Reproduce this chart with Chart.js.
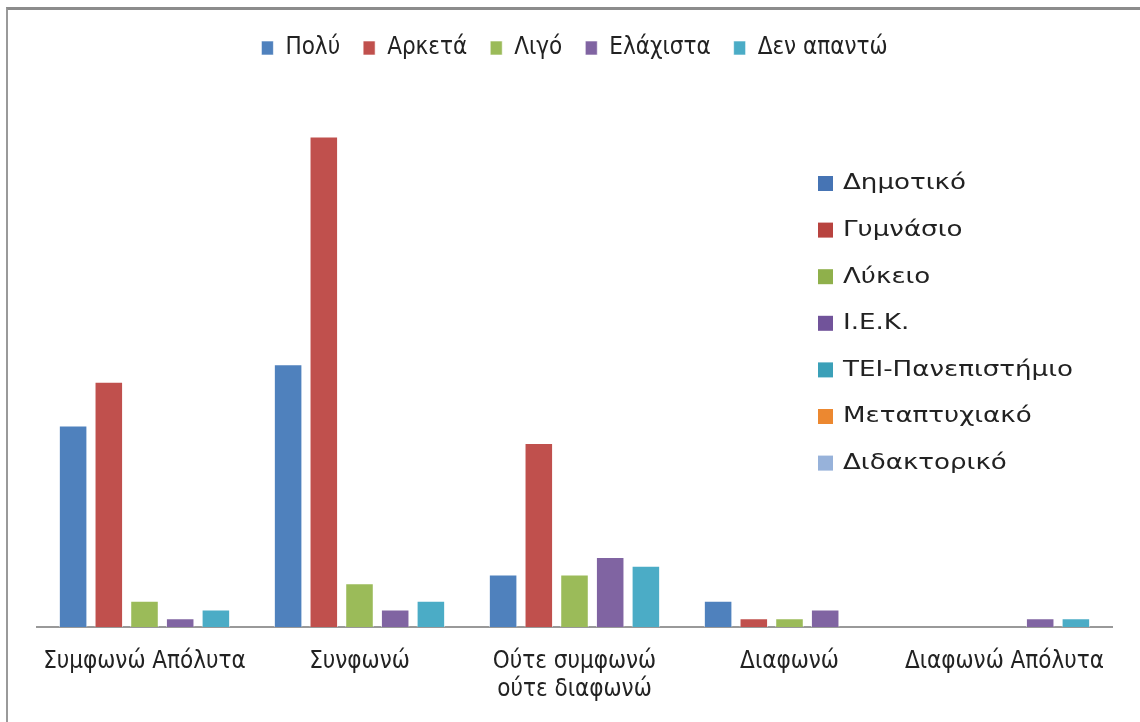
<!DOCTYPE html>
<html>
<head>
<meta charset="utf-8">
<script src="https://cdn.jsdelivr.net/npm/chart.js@4/dist/chart.umd.min.js"></script>
<style>
  html, body { margin: 0; padding: 0; background: #fff; }
  #wrap { position: relative; width: 1140px; height: 722px; }
  #frame { position: absolute; left: 6px; top: 7px; right: 0; bottom: 0;
           border-top: 3px solid #8c8c8c; border-left: 2px solid #9a9a9a; pointer-events: none; }
</style>
</head>
<body>
<div id="wrap">
  <canvas id="chart" width="1140" height="722"></canvas>
  <div id="frame"></div>
</div>
<script>
// κατηγορίες (άξονας x)
const categories = ['Συμφωνώ Απόλυτα', 'Συνφωνώ', ['Ούτε συμφωνώ', 'ούτε διαφωνώ'], 'Διαφωνώ', 'Διαφωνώ Απόλυτα'];

// σειρές
const seriesNames = ['Πολύ', 'Αρκετά', 'Λιγό', 'Ελάχιστα', 'Δεν απαντώ'];
const poly      = [23, 30, 6, 3, 0];
const arketa    = [28, 56, 21, 1, 0];
const ligo      = [3, 5, 6, 1, 0];
const elaxista  = [1, 2, 8, 2, 1];
const denApanto = [2, 3, 7, 0, 1];
const seriesColors = ['#4F81BD', '#C0504D', '#9BBB59', '#8064A2', '#4BACC6'];

// δεύτερο υπόμνημα (δεξιά)
const eduLabels = ['Δημοτικό', 'Γυμνάσιο', 'Λύκειο', 'Ι.Ε.Κ.', 'ΤΕΙ-Πανεπιστήμιο', 'Μεταπτυχιακό', 'Διδακτορικό'];
const eduColors = ['#4674B4', '#B8433F', '#8FB04B', '#71539A', '#3BA0B8', '#EC8830', '#97B2DA'];

const allSeries = [poly, arketa, ligo, elaxista, denApanto];
const narrow = '"DejaVu Sans Condensed", "Liberation Sans Narrow", sans-serif';

const eduLegend = {
  id: 'eduLegend',
  afterDraw(chart) {
    const ctx = chart.ctx;
    ctx.save();
    ctx.font = '21px "DejaVu Sans"';
    ctx.textBaseline = 'middle';
    // τα γράμματα του πρωτοτύπου είναι πλατιά
    const sx = 230 / ctx.measureText('ΤΕΙ-Πανεπιστήμιο').width;
    eduLabels.forEach(function (lab, i) {
      const y = 183 + i * 46.6;
      ctx.fillStyle = eduColors[i];
      ctx.fillRect(818, y - 7, 15, 15);
      ctx.save();
      ctx.translate(843, y + 1);
      ctx.scale(sx, 1);
      ctx.fillStyle = '#222';
      ctx.fillText(lab, 0, 0);
      ctx.restore();
    });
    ctx.restore();
  }
};

new Chart(document.getElementById('chart').getContext('2d'), {
  type: 'bar',
  data: {
    labels: categories,
    datasets: allSeries.map(function (d, i) {
      return {
        label: seriesNames[i],
        data: d,
        backgroundColor: seriesColors[i],
        borderColor: 'rgba(255,255,255,0.6)',
        borderWidth: 1,
        categoryPercentage: 0.83,
        barPercentage: 0.8
      };
    })
  },
  options: {
    responsive: false,
    animation: false,
    layout: { padding: { top: 13, left: 37, right: 28, bottom: 0 } },
    plugins: {
      legend: {
        position: 'top',
        labels: {
          font: { family: narrow, size: 24 },
          color: '#222',
          boxWidth: 12,
          boxHeight: 14,
          padding: 23
        }
      },
      tooltip: { enabled: false }
    },
    scales: {
      x: {
        grid: { display: false, drawTicks: false },
        border: { color: '#999', width: 2 },
        ticks: {
          color: '#222',
          padding: 20,
          maxRotation: 0,
          font: { family: narrow, size: 24, lineHeight: 1.2 }
        },
        afterFit: function (s) { s.height = 95; }
      },
      y: {
        display: false,
        min: 0,
        max: 63.6
      }
    }
  },
  plugins: [eduLegend]
});
</script>
</body>
</html>
